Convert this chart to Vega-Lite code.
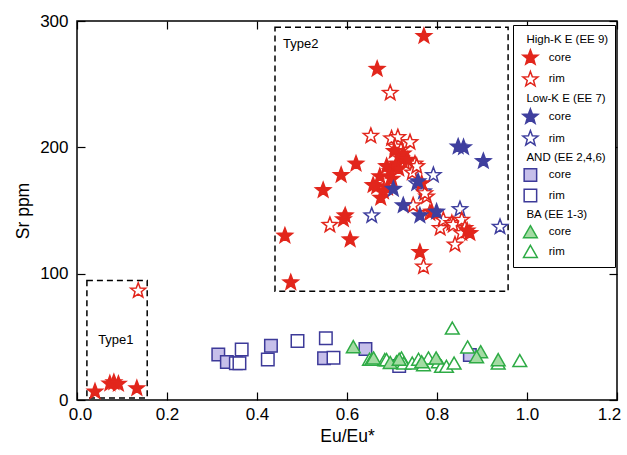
{
  "$schema": "https://vega.github.io/schema/vega-lite/v6.json",
  "width": 540,
  "height": 379,
  "autosize": "none",
  "padding": {"left": 77, "top": 21, "right": 10, "bottom": 55},
  "background": "white",
  "config": {
    "font": "Liberation Sans",
    "view": {"stroke": "black", "strokeWidth": 1.5},
    "axis": {"domain": false, "grid": false, "tickColor": "black", "tickWidth": 1.2, "labelColor": "black", "titleColor": "black", "titleFontWeight": "normal", "labelFont": "Liberation Sans", "titleFont": "Liberation Sans"}
  },
  "datasets": {
    "boxes": [
      {"x1": 0.022, "x2": 0.156, "y1": 1.5, "y2": 94.5},
      {"x1": 0.44, "x2": 0.958, "y1": 86, "y2": 295}
    ],
    "notes": [
      {"x": 0.047, "y": 47.5, "t": "Type1"},
      {"x": 0.458, "y": 281.8, "t": "Type2"}
    ],
    "pts": [
      {"x": 0.314, "y": 36, "g": "and_core"},
      {"x": 0.333, "y": 30, "g": "and_core"},
      {"x": 0.431, "y": 43, "g": "and_core"},
      {"x": 0.549, "y": 33, "g": "and_core"},
      {"x": 0.641, "y": 40.4, "g": "and_core"},
      {"x": 0.873, "y": 35.6, "g": "and_core"},
      {"x": 0.366, "y": 40, "g": "and_rim"},
      {"x": 0.353, "y": 29, "g": "and_rim"},
      {"x": 0.361, "y": 29, "g": "and_rim"},
      {"x": 0.424, "y": 32, "g": "and_rim"},
      {"x": 0.49, "y": 46.7, "g": "and_rim"},
      {"x": 0.553, "y": 48.8, "g": "and_rim"},
      {"x": 0.57, "y": 33.5, "g": "and_rim"},
      {"x": 0.716, "y": 27, "g": "and_rim"},
      {"x": 0.834, "y": 56.7, "g": "ba_rim"},
      {"x": 0.65, "y": 32, "g": "ba_rim"},
      {"x": 0.655, "y": 32, "g": "ba_rim"},
      {"x": 0.684, "y": 31.7, "g": "ba_rim"},
      {"x": 0.688, "y": 31.7, "g": "ba_rim"},
      {"x": 0.71, "y": 30, "g": "ba_rim"},
      {"x": 0.721, "y": 33, "g": "ba_rim"},
      {"x": 0.726, "y": 29, "g": "ba_rim"},
      {"x": 0.745, "y": 29, "g": "ba_rim"},
      {"x": 0.759, "y": 32, "g": "ba_rim"},
      {"x": 0.77, "y": 27.7, "g": "ba_rim"},
      {"x": 0.781, "y": 33, "g": "ba_rim"},
      {"x": 0.803, "y": 30, "g": "ba_rim"},
      {"x": 0.81, "y": 26.4, "g": "ba_rim"},
      {"x": 0.821, "y": 26.4, "g": "ba_rim"},
      {"x": 0.838, "y": 29, "g": "ba_rim"},
      {"x": 0.868, "y": 41.7, "g": "ba_rim"},
      {"x": 0.936, "y": 29, "g": "ba_rim"},
      {"x": 0.984, "y": 31, "g": "ba_rim"},
      {"x": 0.614, "y": 42, "g": "ba_core"},
      {"x": 0.659, "y": 33, "g": "ba_core"},
      {"x": 0.696, "y": 29.5, "g": "ba_core"},
      {"x": 0.716, "y": 32, "g": "ba_core"},
      {"x": 0.766, "y": 30, "g": "ba_core"},
      {"x": 0.798, "y": 33, "g": "ba_core"},
      {"x": 0.897, "y": 38, "g": "ba_core"},
      {"x": 0.888, "y": 34, "g": "ba_core"},
      {"x": 0.936, "y": 31.7, "g": "ba_core"},
      {"x": 0.04, "y": 6.6, "g": "hk_core"},
      {"x": 0.073, "y": 13, "g": "hk_core"},
      {"x": 0.082, "y": 14, "g": "hk_core"},
      {"x": 0.092, "y": 12.7, "g": "hk_core"},
      {"x": 0.133, "y": 9.2, "g": "hk_core"},
      {"x": 0.136, "y": 86.5, "g": "hk_rim"},
      {"x": 0.792, "y": 178, "g": "lk_rim"},
      {"x": 0.655, "y": 146, "g": "lk_rim"},
      {"x": 0.851, "y": 151, "g": "lk_rim"},
      {"x": 0.94, "y": 137, "g": "lk_rim"},
      {"x": 0.755, "y": 171.5, "g": "lk_rim"},
      {"x": 0.77, "y": 165, "g": "lk_rim"},
      {"x": 0.696, "y": 243, "g": "hk_rim"},
      {"x": 0.653, "y": 209, "g": "hk_rim"},
      {"x": 0.699, "y": 207, "g": "hk_rim"},
      {"x": 0.713, "y": 208, "g": "hk_rim"},
      {"x": 0.74, "y": 204, "g": "hk_rim"},
      {"x": 0.707, "y": 200.5, "g": "hk_rim"},
      {"x": 0.72, "y": 198, "g": "hk_rim"},
      {"x": 0.728, "y": 188, "g": "hk_rim"},
      {"x": 0.751, "y": 187, "g": "hk_rim"},
      {"x": 0.745, "y": 180, "g": "hk_rim"},
      {"x": 0.562, "y": 138.5, "g": "hk_rim"},
      {"x": 0.747, "y": 154, "g": "hk_rim"},
      {"x": 0.784, "y": 148, "g": "hk_rim"},
      {"x": 0.807, "y": 136, "g": "hk_rim"},
      {"x": 0.814, "y": 142.5, "g": "hk_rim"},
      {"x": 0.833, "y": 140, "g": "hk_rim"},
      {"x": 0.836, "y": 138.5, "g": "hk_rim"},
      {"x": 0.855, "y": 142.5, "g": "hk_rim"},
      {"x": 0.862, "y": 136, "g": "hk_rim"},
      {"x": 0.855, "y": 132, "g": "hk_rim"},
      {"x": 0.84, "y": 123, "g": "hk_rim"},
      {"x": 0.77, "y": 105.5, "g": "hk_rim"},
      {"x": 0.777, "y": 161, "g": "hk_rim"},
      {"x": 0.773, "y": 163.6, "g": "hk_rim"},
      {"x": 0.755, "y": 185, "g": "hk_rim"},
      {"x": 0.771, "y": 288, "g": "hk_core"},
      {"x": 0.667, "y": 262, "g": "hk_core"},
      {"x": 0.62, "y": 187, "g": "hk_core"},
      {"x": 0.587, "y": 178, "g": "hk_core"},
      {"x": 0.547, "y": 166, "g": "hk_core"},
      {"x": 0.462, "y": 130, "g": "hk_core"},
      {"x": 0.475, "y": 93, "g": "hk_core"},
      {"x": 0.592, "y": 143, "g": "hk_core"},
      {"x": 0.596, "y": 146, "g": "hk_core"},
      {"x": 0.607, "y": 127, "g": "hk_core"},
      {"x": 0.873, "y": 132, "g": "hk_core"},
      {"x": 0.867, "y": 134, "g": "hk_core"},
      {"x": 0.762, "y": 117, "g": "hk_core"},
      {"x": 0.766, "y": 171.5, "g": "hk_core"},
      {"x": 0.788, "y": 149, "g": "hk_core"},
      {"x": 0.688, "y": 185, "g": "hk_core"},
      {"x": 0.721, "y": 191, "g": "hk_core"},
      {"x": 0.673, "y": 177, "g": "hk_core"},
      {"x": 0.666, "y": 169, "g": "hk_core"},
      {"x": 0.681, "y": 165, "g": "hk_core"},
      {"x": 0.658, "y": 170, "g": "hk_core"},
      {"x": 0.696, "y": 181, "g": "hk_core"},
      {"x": 0.71, "y": 187, "g": "hk_core"},
      {"x": 0.725, "y": 195, "g": "hk_core"},
      {"x": 0.7, "y": 175, "g": "hk_core"},
      {"x": 0.715, "y": 183, "g": "hk_core"},
      {"x": 0.675, "y": 160, "g": "hk_core"},
      {"x": 0.69, "y": 168, "g": "hk_core"},
      {"x": 0.735, "y": 190, "g": "hk_core"},
      {"x": 0.705, "y": 197, "g": "hk_core"},
      {"x": 0.703, "y": 167, "g": "lk_core"},
      {"x": 0.725, "y": 154, "g": "lk_core"},
      {"x": 0.762, "y": 146, "g": "lk_core"},
      {"x": 0.799, "y": 149, "g": "lk_core"},
      {"x": 0.847, "y": 200.5, "g": "lk_core"},
      {"x": 0.859, "y": 200, "g": "lk_core"},
      {"x": 0.903, "y": 189, "g": "lk_core"},
      {"x": 0.758, "y": 173, "g": "lk_core"}
    ]
  },
  "resolve": {"axis": {"x": "independent", "y": "independent"}},
  "layer": [
    {
      "data": {"name": "boxes"},
      "mark": {"type": "rect", "fill": null, "stroke": "black", "strokeDash": [6, 4], "strokeWidth": 1.5},
      "encoding": {
        "x": {"field": "x1", "type": "quantitative", "scale": {"domain": [0, 1.2], "nice": false, "zero": false},
          "axis": {"orient": "bottom", "values": [0, 0.2, 0.4, 0.6, 0.8, 1.0, 1.2], "format": ".1f", "title": "Eu/Eu*", "titleFontSize": 17.5, "labelFontSize": 17, "tickSize": -8, "labelPadding": 14, "titlePadding": 5, "labelFlush": false,
            "labelOffset": {"condition": [{"test": "datum.value > 1.1", "value": -8}, {"test": "datum.value < 0.1", "value": 3}], "value": 0}}},
        "x2": {"field": "x2"},
        "y": {"field": "y1", "type": "quantitative", "scale": {"domain": [0, 300], "nice": false, "zero": false},
          "axis": {"orient": "left", "values": [0, 100, 200, 300], "format": "d", "title": "Sr ppm", "titleFontSize": 17.5, "labelFontSize": 17, "tickSize": -8, "labelPadding": 17, "titlePadding": 7, "labelFlush": false}},
        "y2": {"field": "y2"}
      }
    },
    {
      "data": {"name": "pts"},
      "mark": {"type": "point", "size": 250, "opacity": 1, "fillOpacity": 1, "strokeOpacity": 1, "strokeWidth": 1.5},
      "encoding": {
        "x": {"field": "x", "type": "quantitative", "axis": null},
        "y": {"field": "y", "type": "quantitative", "axis": null},
        "shape": {"field": "g", "type": "nominal",
          "scale": {"domain": ["h_hk", "hk_core", "hk_rim", "h_lk", "lk_core", "lk_rim", "h_and", "and_core", "and_rim", "h_ba", "ba_core", "ba_rim"],
            "range": ["M0,0", "M0,-1L0.247,-0.34L0.951,-0.309L0.399,0.13L0.588,0.809L0,0.42L-0.588,0.809L-0.399,0.13L-0.951,-0.309L-0.247,-0.34Z", "M0,-1L0.247,-0.34L0.951,-0.309L0.399,0.13L0.588,0.809L0,0.42L-0.588,0.809L-0.399,0.13L-0.951,-0.309L-0.247,-0.34Z", "M0,0", "M0,-1L0.247,-0.34L0.951,-0.309L0.399,0.13L0.588,0.809L0,0.42L-0.588,0.809L-0.399,0.13L-0.951,-0.309L-0.247,-0.34Z", "M0,-1L0.247,-0.34L0.951,-0.309L0.399,0.13L0.588,0.809L0,0.42L-0.588,0.809L-0.399,0.13L-0.951,-0.309L-0.247,-0.34Z", "M0,0", "M-0.79,-0.79L0.79,-0.79L0.79,0.79L-0.79,0.79Z", "M-0.79,-0.79L0.79,-0.79L0.79,0.79L-0.79,0.79Z", "M0,0", "M0,-0.8L0.87,0.72L-0.87,0.72Z", "M0,-0.8L0.87,0.72L-0.87,0.72Z"]},
          "legend": {"title": null, "orient": "none", "legendX": 436, "legendY": 4, "padding": 6, "strokeColor": "black", "fillColor": "white", "labelFontSize": 11.5, "labelFont": "Liberation Sans", "labelColor": "black", "symbolSize": 250, "symbolOffset": 2.4, "labelOffset": -13, "rowPadding": 0.7, "symbolStrokeWidth": 1.5,
            "labelExpr": "datum.value == 'h_hk' ? 'High-K E (EE 9)' : datum.value == 'h_lk' ? 'Low-K E (EE 7)' : datum.value == 'h_and' ? 'AND (EE 2,4,6)' : datum.value == 'h_ba' ? 'BA (EE 1-3)' : indexof(datum.value, 'core') > 0 ? '\u200b\u00a0\u00a0\u00a0\u00a0\u00a0\u00a0\u00a0core' : '\u200b\u00a0\u00a0\u00a0\u00a0\u00a0\u00a0\u00a0rim'"}},
        "stroke": {"field": "g", "type": "nominal",
          "scale": {"domain": ["h_hk", "hk_core", "hk_rim", "h_lk", "lk_core", "lk_rim", "h_and", "and_core", "and_rim", "h_ba", "ba_core", "ba_rim"],
            "range": ["transparent", "#e2261c", "#e2261c", "transparent", "#3f3f9e", "#3f3f9e", "transparent", "#3d3a99", "#3d3a99", "transparent", "#2eab45", "#2eab45"]}},
        "fill": {"field": "g", "type": "nominal",
          "scale": {"domain": ["h_hk", "hk_core", "hk_rim", "h_lk", "lk_core", "lk_rim", "h_and", "and_core", "and_rim", "h_ba", "ba_core", "ba_rim"],
            "range": ["transparent", "#e2261c", "white", "transparent", "#3f3f9e", "white", "transparent", "#c6bfea", "white", "transparent", "#a3dba3", "white"]}}
      }
    },
    {
      "data": {"name": "notes"},
      "mark": {"type": "text", "align": "left", "baseline": "middle", "fontSize": 13, "font": "Liberation Sans", "color": "black"},
      "encoding": {
        "x": {"field": "x", "type": "quantitative", "axis": {"orient": "top", "values": [0, 0.2, 0.4, 0.6, 0.8, 1.0, 1.2], "labels": false, "title": null, "tickSize": -8}},
        "y": {"field": "y", "type": "quantitative", "axis": {"orient": "right", "values": [0, 100, 200, 300], "labels": false, "title": null, "tickSize": -8}},
        "text": {"field": "t"}
      }
    }
  ]
}
